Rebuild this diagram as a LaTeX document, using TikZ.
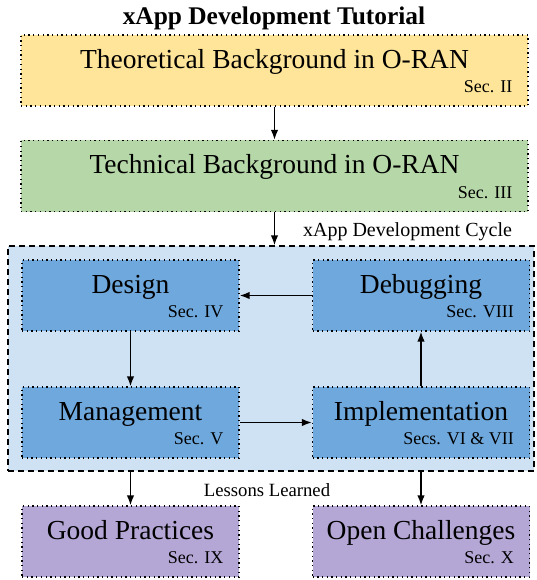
\documentclass[tikz,border=0pt]{standalone}
\usepackage{fontspec}
\setmainfont{Liberation Serif}
\usetikzlibrary{arrows.meta,calc}
\definecolor{yel}{HTML}{FFE599}
\definecolor{grn}{HTML}{B6D7A8}
\definecolor{lblue}{HTML}{CFE2F3}
\definecolor{dblue}{HTML}{6FA8DC}
\definecolor{purp}{HTML}{B4A7D6}
\tikzset{
  x=1pt,y=-1pt,
  box/.style={draw=black, line width=1.3pt, dash pattern=on 1.3pt off 3.4pt, inner sep=0pt, minimum height=71pt},
  wide/.style={box, minimum width=507pt},
  half/.style={box, minimum width=217pt},
  maintxt/.style={anchor=base, inner sep=0pt, font=\fontsize{27.5}{32}\selectfont},
  sectxt/.style={anchor=base east, inner sep=0pt, font=\fontsize{18}{21}\selectfont},
  lbl/.style={anchor=base, inner sep=0pt},
  arr/.style={-{Latex[length=10pt,width=7.5pt]}, line width=1.5pt},
}
\begin{document}
\begin{tikzpicture}
\useasboundingbox (0,0) rectangle (537,580);
\node[anchor=base, inner sep=0pt, font=\bfseries\fontsize{25.4}{29}\selectfont] (title) at (274,25) {xApp Development Tutorial};
% cycle container
\node[draw=black, fill=lblue, line width=1.4pt, dash pattern=on 6pt off 4pt, inner sep=0pt, minimum width=526pt, minimum height=225pt] (cycle) at (271,358.5) {};
\node[lbl, font=\fontsize{20}{23}\selectfont] (cyclelbl) at (407.5,236) {xApp Development Cycle};
\node[lbl, font=\fontsize{18.7}{22}\selectfont] (lessons) at (267,496) {Lessons Learned};
% boxes
\node[wide, fill=yel] (theo) at (274.5,70.5) {};
\node[wide, fill=grn] (tech) at (274.5,176) {};
\node[half, fill=dblue] (design) at (130.5,295.5) {};
\node[half, fill=dblue] (debug) at (421,295.5) {};
\node[half, fill=dblue] (mgmt) at (130.5,422.5) {};
\node[half, fill=dblue] (impl) at (421,422.5) {};
\node[half, fill=purp] (good) at (130.5,541.5) {};
\node[half, fill=purp] (open) at (421,541.5) {};
% texts
\foreach \b/\m/\s in {theo/Theoretical Background in O-RAN/Sec. II, tech/Technical Background in O-RAN/Sec. III, design/Design/Sec. IV, debug/Debugging/Sec. VIII, mgmt/Management/Sec. V, impl/Implementation/Secs. VI \& VII, good/Good Practices/Sec. IX, open/Open Challenges/Sec. X}{
  \node[maintxt] (\b-m) at ([yshift=-34pt]\b.north) {\m};
  \node[sectxt] (\b-s) at ([xshift=-16pt,yshift=14pt]\b.south east) {\s};
}
% arrows
\draw[arr] (theo.south) -- (tech.north);
\draw[arr] (tech.south) -- (tech.south |- cycle.north);
\draw[arr] (debug.west) -- (design.east);
\draw[arr] (design.south) -- (mgmt.north);
\draw[arr] (mgmt.east) -- (impl.west);
\draw[arr] (impl.north) -- (debug.south);
\draw[arr] (cycle.south -| good.north) -- (good.north);
\draw[arr] (cycle.south -| open.north) -- (open.north);
\end{tikzpicture}
\end{document}
